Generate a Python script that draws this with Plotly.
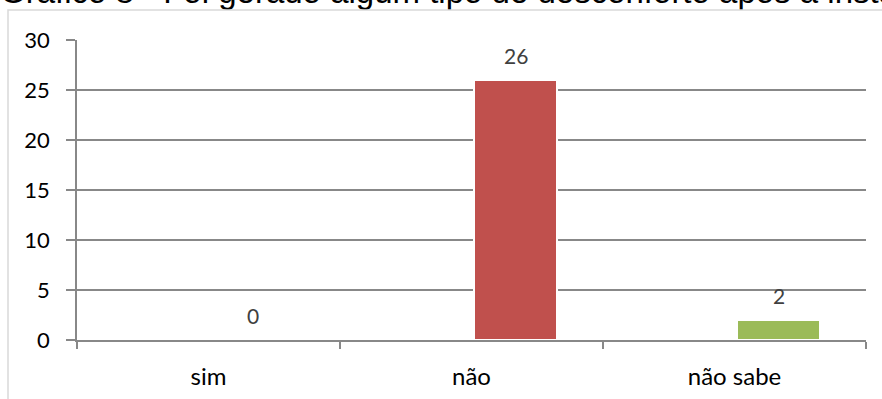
import plotly.graph_objects as go

# Survey answers and counts
categories = ["sim", "não", "não sabe"]
counts = [0, 26, 2]
bar_colors = ["#4F81BD", "#C0504D", "#9BBB59"]
y_ticks = [0, 5, 10, 15, 20, 25, 30]
title_text = "Gráfico 8 - Foi gerado algum tipo de desconforto após a instalação"

W, H = 882, 399
BOTTOM_MARGIN = 59
PLOT_H = H - BOTTOM_MARGIN
PLOT_TOP, PLOT_BOTTOM = 40, 340        # px of y=30 and y=0
PLOT_LEFT, PLOT_RIGHT = 77, 866
FRAME_X, FRAME_Y = 8, 10               # chart frame corner, px
BAR_OFFSET, BAR_WIDTH = 0.0095, 0.316  # in category units


def py(px_from_top):
    """Paper y coordinate of a pixel row."""
    return (PLOT_H - px_from_top) / PLOT_H


fig = go.Figure()

fig.add_trace(go.Bar(
    x=categories, y=counts,
    marker=dict(color=bar_colors, line=dict(color="white", width=2)),
    offset=BAR_OFFSET, width=BAR_WIDTH,
    hoverinfo="skip",
))

# Value labels above each bar
for i, v in enumerate(counts):
    fig.add_annotation(
        x=i + BAR_OFFSET + BAR_WIDTH / 2, y=v, xref="x", yref="y",
        text=str(v), showarrow=False, yanchor="middle", yshift=25,
        font=dict(family="Lato", size=21, color="#404040"),
    )

# Title drawn as a text mark so the chart frame can sit over its lower part
fig.add_trace(go.Scatter(
    x=[0], y=[11], mode="text", text=[title_text],
    textposition="top right", cliponaxis=True,
    textfont=dict(family="Liberation Sans, Arial", size=33, color="black"),
    xaxis="x2", yaxis="y2", hoverinfo="skip", showlegend=False,
))

grid_col = "#888888"
fig.update_layout(
    width=W, height=H,
    margin=dict(l=0, r=0, t=0, b=BOTTOM_MARGIN, autoexpand=False),
    paper_bgcolor="white", plot_bgcolor="white",
    showlegend=False,
    bargap=0,
    xaxis=dict(
        domain=[PLOT_LEFT / W, PLOT_RIGHT / W],
        type="category", tickson="boundaries",
        ticks="outside", ticklen=7, tickwidth=1.5, tickcolor=grid_col,
        showline=True, linecolor=grid_col, linewidth=1.5,
        showgrid=False, automargin=False,
        tickfont=dict(family="Lato", size=24, color="black"),
        ticklabelstandoff=14,
    ),
    yaxis=dict(
        domain=[0, py(PLOT_TOP)],
        range=[0, 30], tickvals=y_ticks,
        ticks="outside", ticklen=9, tickwidth=1.5, tickcolor=grid_col,
        showline=True, linecolor=grid_col, linewidth=1.5,
        showgrid=True, gridcolor=grid_col, gridwidth=1.5,
        zeroline=False, automargin=False,
        tickfont=dict(family="Lato", size=22, color="black"),
        ticklabelstandoff=12,
    ),
    xaxis2=dict(domain=[0, 1], range=[0, W], visible=False, anchor="y2"),
    yaxis2=dict(domain=[py(30), 1], range=[30, 0],
                visible=False, anchor="x2"),
    shapes=[
        # white chart area covering the bottom of the title
        dict(type="rect", xref="paper", yref="paper",
             x0=-0.1, x1=1.1, y0=py(29), y1=py(FRAME_Y),
             line=dict(width=0), fillcolor="white", layer="above"),
        # chart frame
        dict(type="rect", xref="paper", yref="paper",
             x0=FRAME_X / W, x1=1.2, y0=-0.5, y1=py(FRAME_Y),
             line=dict(color="#D9D9D9", width=1.5),
             fillcolor="rgba(0,0,0,0)", layer="above"),
    ],
)

fig.write_html("out.html")
